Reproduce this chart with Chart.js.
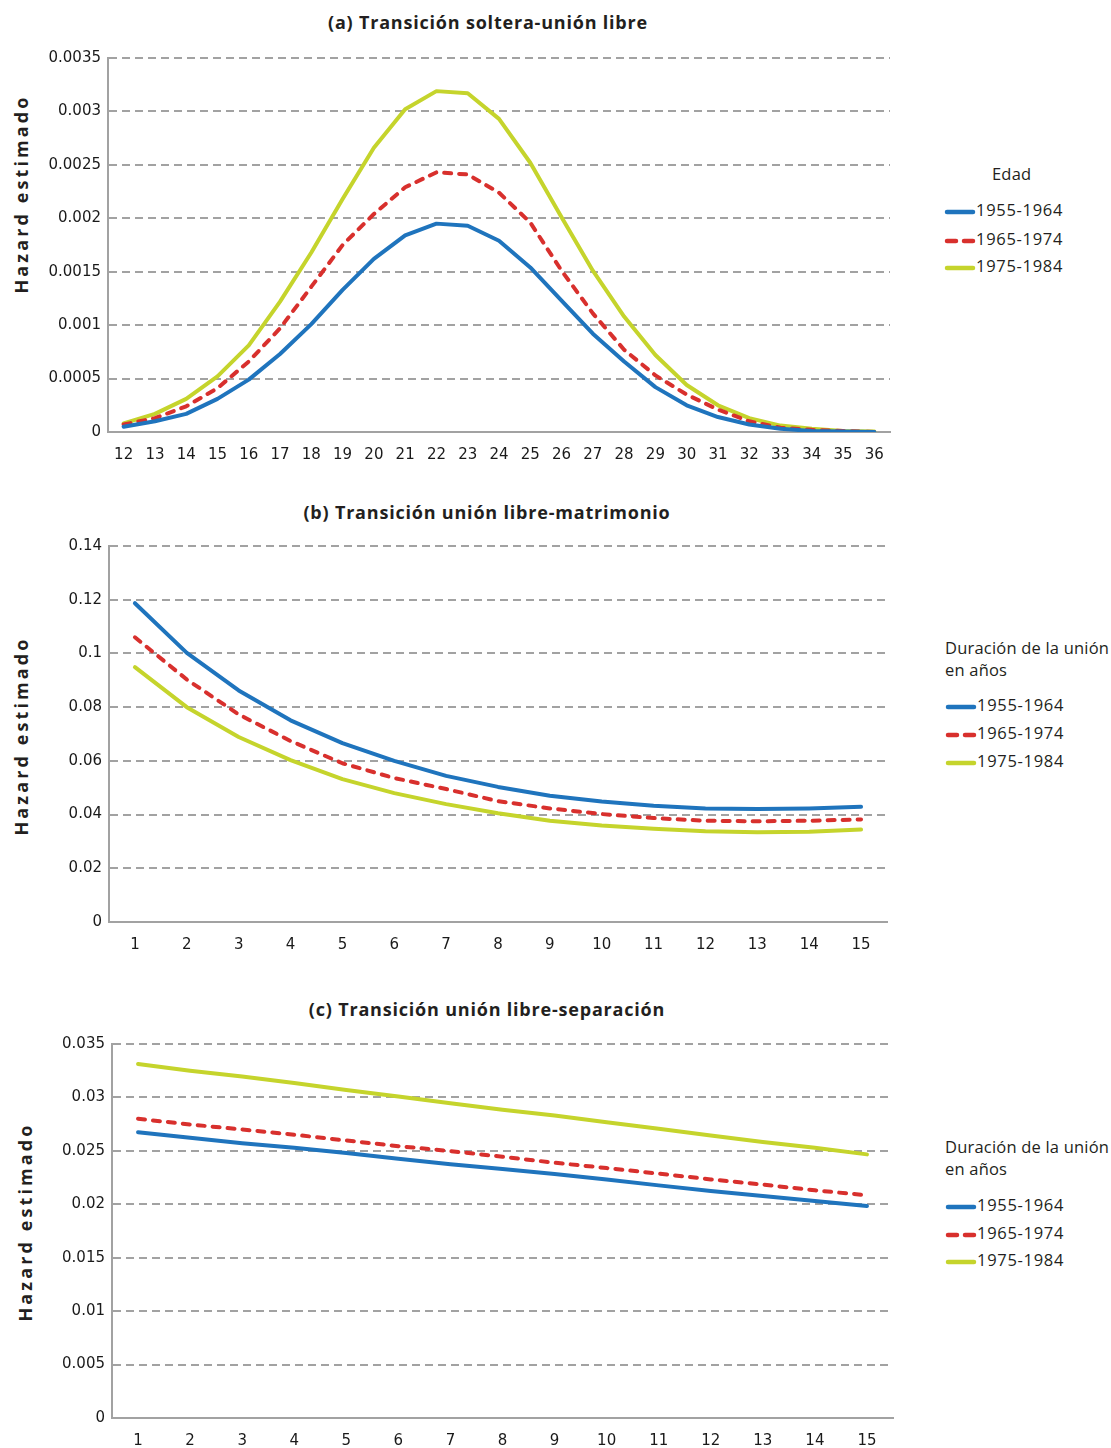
<!DOCTYPE html>
<html>
<head>
<meta charset="utf-8">
<script src="https://cdn.jsdelivr.net/npm/chart.js@4.4.0/dist/chart.umd.min.js"></script>
<style>
  body { margin: 0; background: #fff; width: 1111px; height: 1448px; position: relative; overflow: hidden; }
  .caja { position: absolute; left: 0; width: 900px; }
  .titulo { position: absolute; font-family: "Open Sans", sans-serif; font-weight: bold; font-size: 18px; letter-spacing: 0.8px; color: #231f20; white-space: nowrap; transform: translate(-50%, -50%); }
  .ejeY { position: absolute; font-family: "Open Sans", sans-serif; font-weight: bold; font-size: 18px; letter-spacing: 3.1px; color: #231f20; white-space: nowrap; transform: translate(-50%, -50%) rotate(-90deg); }
  .leyenda { position: absolute; font-family: "Open Sans", sans-serif; font-size: 16.5px; letter-spacing: 0.2px; color: #231f20; }
  .leyenda .fila { position: absolute; left: 0; white-space: nowrap; height: 20px; line-height: 20px; letter-spacing: 0.7px; }
  .leyenda svg { vertical-align: middle; margin-right: 0px; }
</style>
</head>
<body>

<div class="titulo" style="left:488px; top:22px;">(a) Transición soltera-unión libre</div>
<div class="titulo" style="left:487px; top:512px;">(b) Transición unión libre-matrimonio</div>
<div class="titulo" style="left:487px; top:1009px;">(c) Transición unión libre-separación</div>

<div class="ejeY" style="left:21px; top:194px;">Hazard estimado</div>
<div class="ejeY" style="left:21px; top:736px;">Hazard estimado</div>
<div class="ejeY" style="left:25px; top:1222px;">Hazard estimado</div>

<div class="caja" style="top:42px; height:420px;"><canvas id="graficoA"></canvas></div>
<div class="caja" style="top:530px; height:422px;"><canvas id="graficoB"></canvas></div>
<div class="caja" style="top:1028px; height:420px;"><canvas id="graficoC"></canvas></div>

<div class="leyenda" id="leyendaA" style="left:944px; top:164px;"></div>
<div class="leyenda" id="leyendaB" style="left:945px; top:637px;"></div>
<div class="leyenda" id="leyendaC" style="left:945px; top:1136px;"></div>

<script>
// categorias
const edades = ["12","13","14","15","16","17","18","19","20","21","22","23","24","25","26","27","28","29","30","31","32","33","34","35","36"];
const duracion = ["1","2","3","4","5","6","7","8","9","10","11","12","13","14","15"];

const cohortes = ["1955-1964", "1965-1974", "1975-1984"];
const colores = ["#1f74bd", "#d8302d", "#c5d42c"];

// (a) soltera - union libre, por edad
const a1955 = [0.00005,0.0001,0.00017,0.00031,0.00049,0.00073,0.00101,0.00133,0.00162,0.00184,0.00195,0.00193,0.00179,0.00154,0.00123,0.00092,0.00066,0.00042,0.00025,0.00014,0.00007,0.00003,0.00001,0.000005,0];
const a1965 = [0.00007,0.00013,0.00024,0.00041,0.00066,0.00097,0.00136,0.00175,0.00204,0.00229,0.00243,0.00241,0.00224,0.00196,0.00151,0.00111,0.00077,0.00053,0.00035,0.00021,0.0001,0.00004,0.00002,0.00001,0];
const a1975 = [0.00008,0.00017,0.00031,0.00052,0.00081,0.00122,0.00168,0.00218,0.00266,0.00302,0.00319,0.00317,0.00293,0.00252,0.00201,0.00151,0.00108,0.00072,0.00044,0.00025,0.00013,0.00006,0.00003,0.00001,0.000005];

// (b) union libre - matrimonio, por duracion
const b1955 = [0.1187,0.1002,0.0862,0.0751,0.0666,0.0600,0.0544,0.0503,0.0470,0.0449,0.0433,0.0423,0.0421,0.0423,0.0429];
const b1965 = [0.1060,0.0903,0.0773,0.0674,0.0591,0.0536,0.0495,0.0450,0.0423,0.0402,0.0387,0.0377,0.0375,0.0377,0.0382];
const b1975 = [0.0949,0.0800,0.0689,0.0603,0.0532,0.0480,0.0439,0.0405,0.0377,0.0359,0.0347,0.0338,0.0334,0.0336,0.0344];

// (c) union libre - separacion, por duracion
const c1955 = [0.02675,0.02623,0.02572,0.02529,0.02479,0.02427,0.02374,0.02330,0.02283,0.02233,0.02177,0.02124,0.02078,0.02031,0.01984];
const c1965 = [0.0280,0.02747,0.0270,0.02651,0.02597,0.02544,0.02498,0.02445,0.02389,0.02339,0.02287,0.02233,0.02184,0.02131,0.02084];
const c1975 = [0.03313,0.0325,0.03195,0.03136,0.0307,0.03008,0.02946,0.02885,0.0283,0.02768,0.02706,0.02644,0.02582,0.02529,0.02467];

// ticks del eje y
const ticksA = { max: 0.0035, paso: 0.0005 };
const ticksB = { max: 0.14, paso: 0.02 };
const ticksC = { max: 0.035, paso: 0.005 };

function armarDatasets(series) {
  return series.map((datos, i) => ({
    label: cohortes[i],
    data: datos,
    borderColor: colores[i],
    backgroundColor: colores[i],
    borderWidth: 4,
    borderDash: i === 1 ? [7, 8] : [],
    borderCapStyle: "round",
    borderJoinStyle: "round",
    pointRadius: 0,
    tension: 0,
    fill: false
  }));
}

function crearGrafico(id, etiquetas, series, ticks, anchoY, derecha) {
  const ctx = document.getElementById(id);
  return new Chart(ctx, {
    type: "line",
    data: { labels: etiquetas, datasets: armarDatasets(series) },
    options: {
      responsive: true,
      maintainAspectRatio: false,
      animation: false,
      layout: { padding: { top: 5, right: derecha, left: 0, bottom: 0 } },
      plugins: { legend: { display: false }, tooltip: { enabled: false } },
      scales: {
        x: {
          offset: true,
          grid: { display: false },
          border: { display: true, color: "#a2a2a2", width: 2 },
          ticks: { color: "#1a1a1a", font: { family: "DejaVu Sans", size: 15 }, padding: 6, maxRotation: 0, autoSkip: false },
          afterFit: (s) => { s.height = 30; }
        },
        y: {
          min: 0,
          max: ticks.max,
          grid: { color: "#a2a2a2", lineWidth: 2, drawTicks: false },
          border: { display: true, color: "#a2a2a2", width: 2, dash: [8, 5] },
          ticks: {
            stepSize: ticks.paso,
            color: "#1a1a1a",
            font: { family: "DejaVu Sans", size: 15 },
            padding: 7,
            callback: (v) => String(+v.toFixed(6))
          },
          afterFit: (s) => { s.width = anchoY; }
        }
      }
    }
  });
}

crearGrafico("graficoA", edades, [a1955, a1965, a1975], ticksA, 108, 10);
crearGrafico("graficoB", duracion, [b1955, b1965, b1975], ticksB, 109, 13);
crearGrafico("graficoC", duracion, [c1955, c1965, c1975], ticksC, 112, 7);

// leyendas hechas a mano (linea + texto)
function armarLeyenda(id, titulo, tituloCentrado, yFilas) {
  const caja = document.getElementById(id);
  let html = "";
  if (tituloCentrado) {
    html += '<div class="fila" style="top:0; left:48px; letter-spacing:0.2px;">' + titulo + '</div>';
  } else {
    html += '<div style="position:absolute; top:0; left:0; white-space:nowrap; line-height:22px;">' + titulo + '</div>';
  }
  cohortes.forEach((c, i) => {
    const dash = i === 1 ? 'stroke-dasharray="9 8"' : "";
    html += '<div class="fila" style="top:' + yFilas[i] + 'px;">' +
      '<svg width="32" height="8"><line x1="3" y1="4" x2="29" y2="4" stroke="' + colores[i] +
      '" stroke-width="4.5" stroke-linecap="round" ' + dash + '/></svg>' + c + '</div>';
  });
  caja.innerHTML = html;
}

armarLeyenda("leyendaA", "Edad", true, [36, 65, 92]);
armarLeyenda("leyendaB", "Duración de la unión<br>en años", false, [58, 86, 114]);
armarLeyenda("leyendaC", "Duración de la unión<br>en años", false, [59, 87, 114]);
</script>
</body>
</html>
